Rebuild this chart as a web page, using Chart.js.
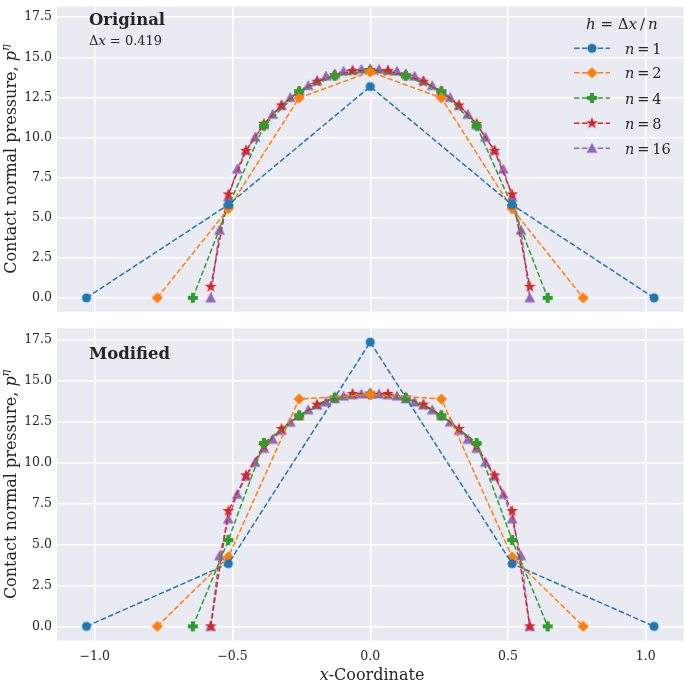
<!DOCTYPE html>
<html>
<head>
<meta charset="utf-8">
<script src="https://cdn.jsdelivr.net/npm/chart.js@4.4.1/dist/chart.umd.min.js"></script>
<style>
  html, body { margin: 0; padding: 0; background: #fff; overflow: hidden; width: 685px; height: 681px; }
  .panel { position: absolute; left: 0; }
  #top { top: 0; }
  #bot { top: 320px; }
</style>
</head>
<body>
<div class="panel" id="top"><canvas id="c1" width="690" height="320"></canvas></div>
<div class="panel" id="bot"><canvas id="c2" width="690" height="361"></canvas></div>
<script>
// x positions of the nodes for each refinement level
const xN1 = [-1.03, -0.515, 0, 0.515, 1.03];
const xN2 = [-0.773, -0.515, -0.258, 0, 0.258, 0.515, 0.773];
const xN4 = [-0.644, -0.515, -0.386, -0.258, -0.129, 0, 0.129, 0.258, 0.386, 0.515, 0.644];
const xN8 = [-0.579, -0.515, -0.451, -0.386, -0.322, -0.258, -0.193, -0.129, -0.064, 0,
             0.064, 0.129, 0.193, 0.258, 0.322, 0.386, 0.451, 0.515, 0.579];
const xN16 = [-0.579, -0.547, -0.515, -0.483, -0.451, -0.418, -0.386, -0.354, -0.322, -0.290,
              -0.258, -0.225, -0.193, -0.161, -0.129, -0.097, -0.064, -0.032, 0,
              0.032, 0.064, 0.097, 0.129, 0.161, 0.193, 0.225, 0.258, 0.290, 0.322,
              0.354, 0.386, 0.418, 0.451, 0.483, 0.515, 0.547, 0.579];

// contact pressure, original formulation
const origN1 = [0, 5.81, 13.18, 5.81, 0];
const origN2 = [0, 5.55, 12.47, 14.09, 12.47, 5.55, 0];
const origN4 = [0, 5.72, 10.73, 12.87, 13.85, 14.15, 13.85, 12.87, 10.73, 5.72, 0];
const origN8 = [0.69, 6.45, 9.17, 10.85, 12.0, 12.87, 13.48, 13.88, 14.15, 14.2,
                14.15, 13.88, 13.48, 12.87, 12.0, 10.85, 9.17, 6.45, 0.69];
const origN16 = [0, 4.22, 6.3, 8.03, 9.2, 10.02, 10.8, 11.45, 12.0, 12.5,
                 12.9, 13.24, 13.55, 13.83, 13.97, 14.14, 14.2, 14.26, 14.28,
                 14.26, 14.2, 14.14, 13.97, 13.83, 13.55, 13.24, 12.9, 12.5, 12.0,
                 11.45, 10.8, 10.02, 9.2, 8.03, 6.3, 4.22, 0];

// contact pressure, modified formulation
const modN1 = [0, 3.82, 17.33, 3.82, 0];
const modN2 = [0, 4.23, 13.86, 14.13, 13.86, 4.23, 0];
const modN4 = [0, 5.26, 11.18, 12.85, 13.93, 14.13, 13.93, 12.85, 11.18, 5.26, 0];
const modN8 = [0, 7.03, 9.2, 11.0, 12.04, 12.85, 13.52, 13.95, 14.17, 14.2,
               14.17, 13.95, 13.52, 12.85, 12.04, 11.0, 9.2, 7.03, 0];
const modN16 = [0, 4.3, 6.55, 8.05, 9.15, 10.0, 10.85, 11.4, 11.95, 12.45,
                12.85, 13.2, 13.5, 13.68, 13.88, 14.04, 14.12, 14.17, 14.18,
                14.17, 14.12, 14.04, 13.88, 13.68, 13.5, 13.2, 12.85, 12.45, 11.95,
                11.4, 10.85, 10.0, 9.15, 8.05, 6.55, 4.3, 0];

const seriesLabels = ['1', '2', '4', '8', '16'];
const xTicks = [-1.0, -0.5, 0.0, 0.5, 1.0];
const yTicks = [0, 2.5, 5, 7.5, 10, 12.5, 15, 17.5];

const colors = ['#1f77b4', '#ff7f0e', '#2ca02c', '#d62728', '#9467bd'];
const shapes = ['circle', 'diamond', 'plus', 'star', 'triangle'];
const FONT = '"DejaVu Serif", serif';
const TEXT = '#262626';

Chart.defaults.font.family = FONT;
Chart.defaults.font.size = 12.5;
Chart.defaults.color = TEXT;

function makeMarker(shape, color) {
  const c = document.createElement('canvas');
  c.width = 16; c.height = 16;
  const g = c.getContext('2d');
  g.fillStyle = color;
  g.translate(8, 8);
  g.beginPath();
  if (shape === 'circle') {
    g.arc(0, 0, 4.6, 0, Math.PI * 2);
  } else if (shape === 'diamond') {
    g.moveTo(0, -5.6); g.lineTo(5.6, 0); g.lineTo(0, 5.6); g.lineTo(-5.6, 0);
  } else if (shape === 'plus') {
    const a = 5, b = 2;
    g.moveTo(-b, -a); g.lineTo(b, -a); g.lineTo(b, -b); g.lineTo(a, -b); g.lineTo(a, b);
    g.lineTo(b, b); g.lineTo(b, a); g.lineTo(-b, a); g.lineTo(-b, b); g.lineTo(-a, b);
    g.lineTo(-a, -b); g.lineTo(-b, -b);
  } else if (shape === 'star') {
    for (let k = 0; k < 10; k++) {
      const r = k % 2 === 0 ? 6.2 : 2.5;
      const ang = -Math.PI / 2 + k * Math.PI / 5;
      const px = r * Math.cos(ang), py = r * Math.sin(ang);
      if (k === 0) g.moveTo(px, py); else g.lineTo(px, py);
    }
  } else if (shape === 'triangle') {
    g.moveTo(0, -5.4); g.lineTo(5.4, 4.6); g.lineTo(-5.4, 4.6);
  }
  g.closePath();
  g.fill();
  return c;
}
const markers = shapes.map((s, i) => makeMarker(s, colors[i]));

function fmt(v) {
  return v.toFixed(1).replace('-', '\u2212');
}

// draws a run of text pieces, some italic / raised
function rich(ctx, x, y, segs, size, align) {
  const fontOf = s => (s.i ? 'italic ' : '') + (s.b ? 'bold ' : '') + (size * (s.s || 1)) + 'px ' + FONT;
  let w = 0;
  segs.forEach(s => { ctx.font = fontOf(s); w += ctx.measureText(s.t).width; });
  let cx = align === 'center' ? x - w / 2 : x;
  ctx.textAlign = 'left';
  segs.forEach(s => {
    ctx.font = fontOf(s);
    ctx.fillText(s.t, cx, y - (s.dy || 0));
    cx += ctx.measureText(s.t).width;
  });
}

const panelBg = {
  id: 'panelBg',
  beforeDraw(chart) {
    const a = chart.chartArea, ctx = chart.ctx;
    ctx.save();
    ctx.fillStyle = '#eaeaf2';
    ctx.fillRect(a.left, a.top, a.right - a.left, a.bottom - a.top);
    ctx.restore();
  }
};

const panelText = {
  id: 'panelText',
  afterDraw(chart, args, o) {
    const ctx = chart.ctx, a = chart.chartArea;
    ctx.save();
    ctx.fillStyle = TEXT;
    ctx.textBaseline = 'alphabetic';

    rich(ctx, 89, o.titleY, [{ t: o.title, b: true }], 16.5, 'left');
    if (o.sub) {
      rich(ctx, 89, o.titleY + 19.5, [{ t: '\u0394' }, { t: 'x', i: true }, { t: ' = 0.419' }], 13, 'left');
    }

    // y label
    ctx.save();
    ctx.translate(15.5, (a.top + a.bottom) / 2);
    ctx.rotate(-Math.PI / 2);
    rich(ctx, 0, 0, [{ t: 'Contact normal pressure, ' }, { t: 'p', i: true },
                     { t: '\u03b7', i: true, s: 0.7, dy: 6.5 }], 16, 'center');
    ctx.restore();

    if (o.xlabel) {
      rich(ctx, 372, chart.height - 1.5, [{ t: 'x', i: true }, { t: '-Coordinate' }], 16, 'center');
    }

    if (o.legend) {
      rich(ctx, 586, 28.5, [{ t: 'h', i: true }, { t: ' = \u0394' }, { t: 'x', i: true },
                            { t: '\u2009/\u2009' }, { t: 'n', i: true }], 15, 'left');
      const rows = [48.3, 72.8, 98, 123.2, 148.3];
      rows.forEach((ry, k) => {
        ctx.save();
        ctx.strokeStyle = colors[k];
        ctx.lineWidth = 1.5;
        ctx.setLineDash([5.5, 2.4]);
        ctx.beginPath();
        ctx.moveTo(574, ry); ctx.lineTo(610, ry);
        ctx.stroke();
        ctx.restore();
        ctx.drawImage(markers[k], 592 - 8, ry - 8);
        rich(ctx, 625, ry + 5.5, [{ t: 'n', i: true }, { t: '\u2009=\u2009' + seriesLabels[k] }], 14.5, 'left');
      });
    }
    ctx.restore();
  }
};

function buildChart(id, xs, ys, opts) {
  const datasets = ys.map((vals, k) => ({
    label: 'n = ' + seriesLabels[k],
    data: vals.map((v, i) => ({ x: xs[k][i], y: v })),
    borderColor: colors[k],
    backgroundColor: colors[k],
    borderWidth: 1.5,
    borderDash: [5.5, 2.4],
    pointStyle: markers[k],
    pointRadius: 5,
    fill: false,
    tension: 0
  }));
  return new Chart(document.getElementById(id), {
    type: 'line',
    data: { datasets },
    options: {
      responsive: false,
      animation: false,
      events: [],
      layout: { padding: { top: opts.padTop, right: 3, left: 0, bottom: 0 } },
      plugins: {
        legend: { display: false },
        tooltip: { enabled: false },
        panelText: opts.text
      },
      scales: {
        x: {
          type: 'linear',
          min: -1.137,
          max: 1.137,
          afterBuildTicks: s => { s.ticks = xTicks.map(v => ({ value: v })); },
          afterFit: s => { s.height = opts.xAxisH; s.paddingLeft = 0; s.paddingRight = 0; },
          ticks: { display: opts.showX, callback: v => fmt(v), padding: 9, color: TEXT },
          grid: { color: '#ffffff', lineWidth: 1.5, drawTicks: false },
          border: { display: false }
        },
        y: {
          type: 'linear',
          min: -0.865,
          max: 18.17,
          afterBuildTicks: s => { s.ticks = yTicks.map(v => ({ value: v })); },
          afterFit: s => { s.width = 57; s.paddingTop = 0; s.paddingBottom = 0; },
          ticks: { callback: v => fmt(v), padding: 5, color: TEXT },
          grid: { color: '#ffffff', lineWidth: 1.5, drawTicks: false },
          border: { display: false }
        }
      }
    },
    plugins: [panelBg, panelText]
  });
}

const xsAll = [xN1, xN2, xN4, xN8, xN16];

buildChart('c1', xsAll, [origN1, origN2, origN4, origN8, origN16], {
  padTop: 0, xAxisH: 8.3, showX: false,
  text: { title: 'Original', titleY: 25, sub: true, legend: true, xlabel: false }
});

buildChart('c2', xsAll, [modN1, modN2, modN4, modN8, modN16], {
  padTop: 8.3, xAxisH: 40.5, showX: true,
  text: { title: 'Modified', titleY: 39, sub: false, legend: false, xlabel: true }
});
</script>
</body>
</html>
